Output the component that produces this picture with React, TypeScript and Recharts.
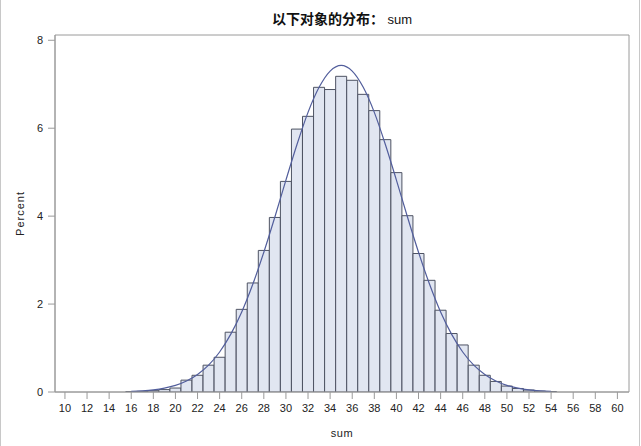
import React from "react";
import {
  ComposedChart,
  Bar,
  Line,
  XAxis,
  YAxis,
  ReferenceArea,
  Label,
} from "recharts";

// bin midpoints (width 1)
const bins = [
  16, 17, 18, 19, 20, 21, 22, 23, 24, 25, 26, 27, 28, 29, 30, 31, 32, 33, 34,
  35, 36, 37, 38, 39, 40, 41, 42, 43, 44, 45, 46, 47, 48, 49, 50, 51, 52, 53, 54,
];

// percent per bin
const percent = [
  0.005, 0.015, 0.03, 0.055, 0.09, 0.27, 0.38, 0.61, 0.79, 1.36, 1.88, 2.48,
  3.22, 3.97, 4.79, 5.98, 6.27, 6.93, 6.88, 7.18, 7.09, 6.77, 6.4, 5.74, 4.99,
  4.01, 3.15, 2.54, 1.86, 1.33, 1.07, 0.61, 0.38, 0.24, 0.135, 0.08, 0.045,
  0.02, 0.005,
];

// fitted normal curve, read at each midpoint
const curve = [
  0.014, 0.027, 0.049, 0.088, 0.15, 0.25, 0.4, 0.61, 0.91, 1.31, 1.82, 2.45,
  3.18, 3.98, 4.82, 5.63, 6.36, 6.93, 7.3, 7.43, 7.3, 6.93, 6.36, 5.63, 4.82,
  3.98, 3.18, 2.45, 1.82, 1.31, 0.91, 0.61, 0.4, 0.25, 0.15, 0.088, 0.049,
  0.027, 0.014,
];

const xTicks = [
  10, 12, 14, 16, 18, 20, 22, 24, 26, 28, 30, 32, 34, 36, 38, 40, 42, 44, 46,
  48, 50, 52, 54, 56, 58, 60,
];
const yTicks = [0, 2, 4, 6, 8];

const X_DOMAIN: [number, number] = [9.1, 61.05];
const Y_DOMAIN: [number, number] = [0, 8.12];

const data = bins.map((x, i) => ({ x, pct: percent[i], fit: curve[i] }));

const FONT = '"Liberation Sans", Arial, sans-serif';
const AXIS_GRAY = "#9a9a9a";
const tickStyle = { fontSize: 11, fill: "#222", fontFamily: FONT };

export default function App() {
  return (
    <div
      style={{
        position: "absolute",
        left: 0,
        top: 0,
        width: 641,
        height: 446,
        background: "#fff",
      }}
    >
      <div
        style={{
          position: "absolute",
          left: 0,
          top: 0,
          width: 640,
          height: 446,
          boxSizing: "border-box",
          borderLeft: "1px solid #c8c8c8",
          borderRight: "1px solid #c8c8c8",
          pointerEvents: "none",
        }}
      />
      <div
        style={{
          position: "absolute",
          left: 55,
          width: 574,
          top: 8,
          textAlign: "center",
          fontFamily: '"Noto Sans CJK SC", sans-serif',
          fontWeight: "bold",
          fontSize: 14,
          lineHeight: "20px",
          color: "#111",
        }}
      >
        以下对象的分布：
        <span style={{ fontFamily: FONT, fontWeight: "normal", fontSize: 13 }}>
          {" "}sum
        </span>
      </div>
      <ComposedChart
        width={641}
        height={446}
        data={data}
        margin={{ top: 35, right: 12, bottom: 0, left: 10 }}
        barCategoryGap={0}
        barGap={0}
      >
        <XAxis
          dataKey="x"
          type="number"
          domain={X_DOMAIN}
          allowDataOverflow
          ticks={xTicks}
          interval={0}
          height={54}
          tickSize={7}
          tickMargin={5}
          axisLine={{ stroke: AXIS_GRAY }}
          tickLine={{ stroke: AXIS_GRAY }}
          tick={tickStyle}
        >
          <Label
            value="sum"
            position="insideBottom"
            offset={9}
            style={{ fontSize: 11, fill: "#222", fontFamily: FONT, letterSpacing: 0.5 }}
          />
        </XAxis>
        <YAxis
          type="number"
          domain={Y_DOMAIN}
          allowDataOverflow
          ticks={yTicks}
          width={45}
          tickSize={7}
          tickMargin={5}
          axisLine={{ stroke: AXIS_GRAY }}
          tickLine={{ stroke: AXIS_GRAY }}
          tick={tickStyle}
        >
          <Label
            value="Percent"
            angle={-90}
            position="insideLeft"
            offset={10}
            style={{
              fontSize: 11,
              fill: "#222",
              fontFamily: FONT,
              textAnchor: "middle",
              letterSpacing: 1,
            }}
          />
        </YAxis>
        <ReferenceArea
          x1={X_DOMAIN[0]}
          x2={X_DOMAIN[1]}
          y1={Y_DOMAIN[0]}
          y2={Y_DOMAIN[1]}
          fill="none"
          fillOpacity={0}
          stroke={AXIS_GRAY}
          strokeOpacity={1}
        />
        <Bar
          dataKey="pct"
          fill="#e1e6f1"
          stroke="#4e5363"
          strokeWidth={1}
          isAnimationActive={false}
        />
        <Line
          dataKey="fit"
          type="monotone"
          dot={false}
          stroke="#525e9c"
          strokeWidth={1.2}
          isAnimationActive={false}
        />
      </ComposedChart>
    </div>
  );
}
